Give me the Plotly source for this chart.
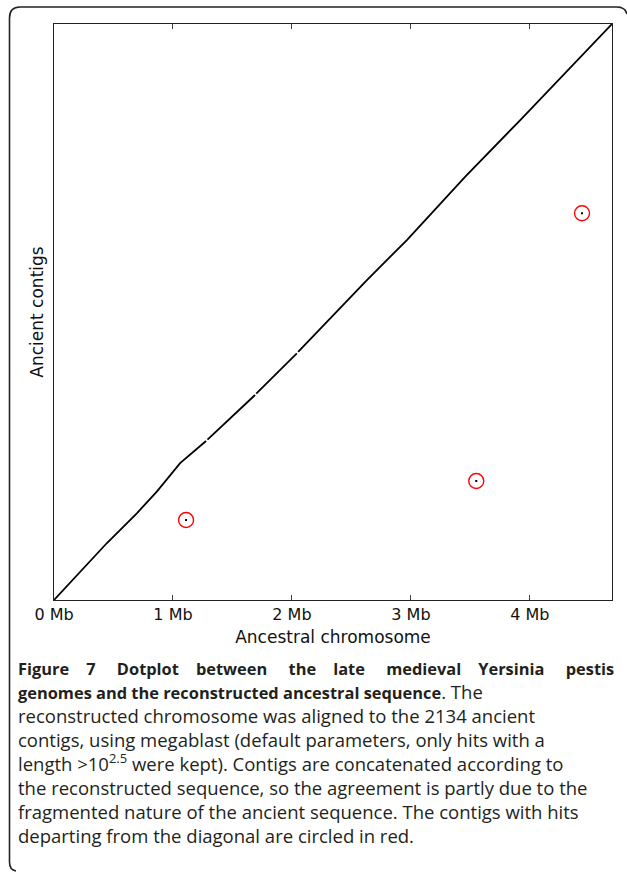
import plotly.graph_objects as go

# ---- data (Mb) ----
diag_x = [0.0, 0.443, 0.696, 0.864, 1.060, 1.278, None, 1.290, 1.690, None, 1.700, 2.041, None, 2.052, 2.630, 2.966, 3.457, 3.919, 4.69]
diag_y = [0.0, 0.462, 0.706, 0.882, 1.115, 1.295, None, 1.306, 1.669, None, 1.680, 2.009, None, 2.020, 2.605, 2.931, 3.448, 3.908, 4.69]

outlier_x = [1.110, 3.549, 4.438]
outlier_y = [0.651, 0.969, 3.149]

tick_vals = [0, 1, 2, 3, 4]
tick_text = ["0 Mb", "1 Mb", "2 Mb", "3 Mb", "4 Mb"]

x_max = 4.69
y_max = 4.69

title_words = ["Figure", "7", "Dotplot", "between", "the", "late", "medieval", "Yersinia", "pestis"]

# first caption line is justified to the full width in the reference
GAPS = [" &nbsp;&nbsp;&nbsp;", " &nbsp;&nbsp;&nbsp;&nbsp;"]
line1 = title_words[0]
for i, w in enumerate(title_words[1:]):
    line1 += GAPS[i % 2] + w

caption_lines = [
    "<span style='font-size:16.4px'><b>" + line1 + "</b></span>",
    "<span style='font-size:16.4px'><b>genomes and the reconstructed ancestral sequence</b></span>. The",
    "reconstructed chromosome was aligned to the 2134 ancient",
    "contigs, using megablast (default parameters, only hits with a",
    "length &gt;10<sup>2.5</sup> were kept). Contigs are concatenated according to",
    "the reconstructed sequence, so the agreement is partly due to the",
    "fragmented nature of the ancient sequence. The contigs with hits",
    "departing from the diagonal are circled in red.",
]

# ---- layout geometry (pixels) ----
W, H = 627, 873
L, R, T, B = 54, 15, 24, 273
pw, ph = W - L - R, H - T - B


def px(x):
    return (x - L) / pw


def py(y):
    return (H - B - y) / ph


fig = go.Figure()
fig.add_trace(go.Scatter(x=diag_x, y=diag_y, mode="lines",
                         line=dict(color="black", width=1.8),
                         connectgaps=False, showlegend=False, hoverinfo="skip"))
fig.add_trace(go.Scatter(x=outlier_x, y=outlier_y, mode="markers",
                         marker=dict(symbol="circle-open", size=15,
                                     line=dict(color="red", width=1.4), color="red"),
                         showlegend=False, hoverinfo="skip"))
fig.add_trace(go.Scatter(x=outlier_x, y=outlier_y, mode="markers",
                         marker=dict(symbol="square", size=2, color="black"),
                         showlegend=False, hoverinfo="skip"))

fig.update_xaxes(range=[0, x_max], tickvals=tick_vals, ticktext=tick_text,
                 ticks="inside", ticklen=5, tickwidth=1, tickcolor="#444",
                 mirror="ticks", showline=True, linecolor="#222", linewidth=1.3,
                 showgrid=False, zeroline=False,
                 tickfont=dict(family="DejaVu Sans", size=16, color="#111"),
                 title=dict(text="Ancestral chromosome", standoff=7,
                            font=dict(family="DejaVu Sans", size=17, color="#111")))
fig.update_yaxes(range=[0, y_max], showticklabels=False, ticks="",
                 mirror=True, showline=True, linecolor="#222", linewidth=1.3,
                 showgrid=False, zeroline=False,
                 title=dict(text="Ancient contigs", standoff=4,
                            font=dict(family="DejaVu Sans", size=17, color="#111")))

# outer frame (decoration)
frame = (f"M {px(20)} {py(7)} L {px(617)} {py(7)} Q {px(625)} {py(7)} {px(627)} {py(14)} "
         f"M {px(20)} {py(7)} Q {px(9.5)} {py(7)} {px(9.5)} {py(18)} "
         f"L {px(9.5)} {py(862)} Q {px(9.5)} {py(870)} {px(16)} {py(871)}")
fig.add_shape(type="path", path=frame, xref="paper", yref="paper",
              line=dict(color="#222", width=1.6))

# caption: one text block (line spacing 1.3 x 18.5px ~ 24px, as in the reference)
fig.add_annotation(text="<br>".join(caption_lines), x=px(17), y=py(752),
                   xref="paper", yref="paper", xanchor="left", yanchor="middle",
                   showarrow=False, align="left", borderpad=0,
                   font=dict(family="Open Sans", size=18.5, color="#231f20"))

fig.update_layout(width=W, height=H, margin=dict(l=L, r=R, t=T, b=B),
                  paper_bgcolor="white", plot_bgcolor="white")
fig.write_html("out.html", config={"displayModeBar": False},
               post_script="document.body.style.margin='0px';")
